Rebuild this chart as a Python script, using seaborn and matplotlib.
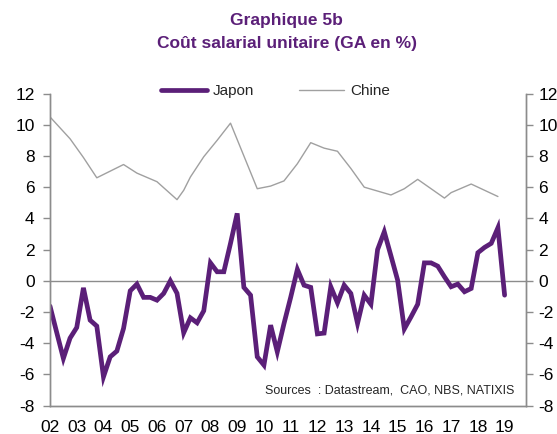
import numpy as np
import pandas as pd
import seaborn as sns
import matplotlib.pyplot as plt

# Japon : croissance annuelle du cout salarial unitaire, trimestriel 2002T1-2019T1
japon = [-1.62, -3.3, -4.97, -3.67, -2.99, -0.45, -2.52, -2.9,
         -6.15, -4.87, -4.5, -3.05, -0.64, -0.21, -1.06, -1.06,
         -1.24, -0.81, 0.0, -0.8, -3.33, -2.37, -2.69, -1.92,
         1.15, 0.58, 0.58, 2.4, 4.32, -0.42, -0.92, -4.87,
         -5.4, -2.84, -4.55, -2.74, -1.06, 0.73, -0.28, -0.42,
         -3.4, -3.35, -0.38, -1.41, -0.28, -0.81, -2.73, -0.92,
         -1.5, 2.0, 3.14, 1.6, 0.04, -3.08, -2.31, -1.5,
         1.15, 1.15, 0.94, 0.26, -0.38, -0.21, -0.7, -0.49,
         1.8, 2.14, 2.4, 3.4, -0.92]
japon_dates = 2002 + np.arange(len(japon)) / 4

# Chine : sommets de la courbe (date decimale, valeur)
chine_dates = [2002.0, 2002.75, 2003.25, 2003.75, 2004.75, 2005.25, 2006.0,
               2006.75, 2007.0, 2007.25, 2007.75, 2008.25, 2008.75, 2009.75,
               2010.25, 2010.75, 2011.25, 2011.75, 2012.25, 2012.75, 2013.25,
               2013.75, 2014.25, 2014.75, 2015.25, 2015.75, 2016.25, 2016.75,
               2017.0, 2017.75, 2018.25, 2018.75]
chine = [10.5, 9.1, 7.9, 6.6, 7.45, 6.9, 6.35,
         5.2, 5.8, 6.65, 7.95, 9.0, 10.1, 5.9,
         6.07, 6.4, 7.5, 8.85, 8.5, 8.3, 7.2,
         6.0, 5.75, 5.5, 5.9, 6.5, 5.9, 5.3,
         5.65, 6.2, 5.8, 5.4]

years = list(range(2002, 2020))
year_labels = ['%02d' % (y % 100) for y in years]
yticks = list(range(-8, 13, 2))

purple = '#5b1f78'
grey = '#a0a0a0'
axis_grey = '#8c8c8c'

sns.set_style('white')
plt.rcParams['font.family'] = ['Liberation Sans', 'DejaVu Sans']
plt.rcParams['axes.unicode_minus'] = False

fig = plt.figure(figsize=(5.57, 4.34), dpi=100)
ax = fig.add_axes([50 / 557, 1 - 405.7 / 434, 476 / 557, 312.2 / 434])

df_j = pd.DataFrame({'date': japon_dates, 'val': japon})
df_c = pd.DataFrame({'date': chine_dates, 'val': chine})

sns.lineplot(data=df_j, x='date', y='val', ax=ax, color=purple, linewidth=3.4,
             label='Japon', solid_joinstyle='miter')
sns.lineplot(data=df_c, x='date', y='val', ax=ax, color=grey, linewidth=1.0,
             label='Chine')
ax.axhline(0, color=axis_grey, linewidth=1.0, zorder=0)

ax.set_xlim(2002, 2019.8)
ax.set_ylim(-8, 12)
ax.set_xticks(years)
ax.set_xticklabels(year_labels)
ax.set_yticks(yticks)
ax.set_xlabel('')
ax.set_ylabel('')

ax2 = ax.twinx()
ax2.set_ylim(-8, 12)
ax2.set_yticks(yticks)

for a in (ax, ax2):
    for s in a.spines.values():
        s.set_color(axis_grey)
        s.set_linewidth(1.0)
    a.spines['top'].set_visible(False)
    a.tick_params(length=5, width=1.0, color=axis_grey, labelsize=12.5,
                  labelcolor='black', direction='out')
ax.tick_params(axis='x', pad=5)
ax.tick_params(axis='y', left=True, pad=6)
ax2.tick_params(axis='y', right=True, pad=4)

leg = ax.legend(loc='center', bbox_to_anchor=(0.474, 1.008), ncol=2, frameon=False,
                fontsize=11, handlelength=3.0, columnspacing=2.9, handletextpad=0.4)

ax.text(0.975, 0.05, 'Sources  : Datastream,  CAO, NBS, NATIXIS', transform=ax.transAxes,
        ha='right', va='center', fontsize=9)

fig.text(0.515, 0.952, 'Graphique 5b', ha='center', va='center', fontsize=12.5,
         fontweight='bold', color=purple)
fig.text(0.515, 0.899, 'Coût salarial unitaire (GA en %)', ha='center', va='center',
         fontsize=12.5, fontweight='bold', color=purple)

fig.savefig('out.png', dpi=100)
